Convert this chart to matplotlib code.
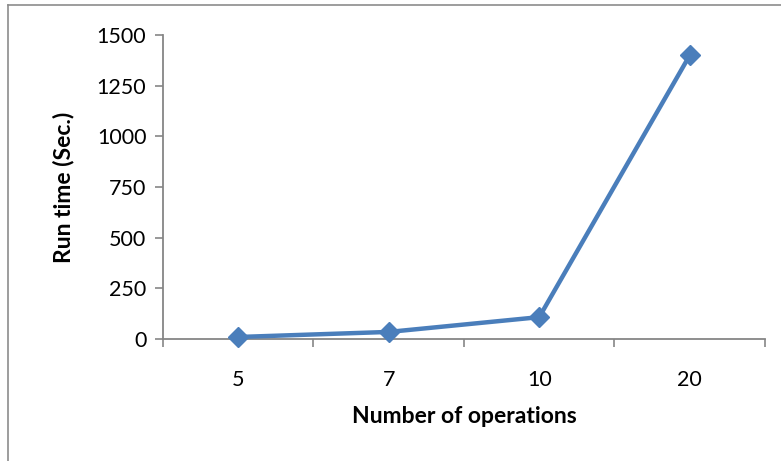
import matplotlib
matplotlib.use("Agg")
import matplotlib.pyplot as plt
from matplotlib.lines import Line2D

# Run time versus number of operations
operations = ["5", "7", "10", "20"]
run_time = [10, 35, 108, 1400]
y_ticks = [0, 250, 500, 750, 1000, 1250, 1500]

plt.rcParams["font.family"] = ["Lato", "DejaVu Sans"]

fig = plt.figure(figsize=(7.81, 4.61), dpi=100)
ax = fig.add_axes([0.2087, 0.2646, 0.7708, 0.6594])

line_color = "#4A7EBB"
axis_color = "#868686"

x = list(range(len(operations)))
ax.plot(x, run_time, color=line_color, linewidth=3.2, marker="D",
        markersize=10.5, markerfacecolor=line_color, markeredgecolor=line_color,
        clip_on=False, zorder=3)

ax.set_xlim(-0.5, len(operations) - 0.5)
ax.set_ylim(0, 1500)

# category boundaries carry the tick marks, centres carry the labels
ax.set_xticks([i - 0.5 for i in range(len(operations) + 1)])
ax.set_xticklabels([])
ax.set_xticks(x, minor=True)
ax.set_xticklabels(operations, minor=True)
ax.tick_params(axis="x", which="major", direction="out", length=6,
               width=1.2, color=axis_color)
ax.tick_params(axis="x", which="minor", length=0, pad=22, labelsize=15.5)

ax.set_yticks(y_ticks)
ax.set_yticklabels([str(v) for v in y_ticks])
ax.tick_params(axis="y", direction="out", length=6, width=1.2,
               color=axis_color, labelsize=15.5, pad=6)

for side in ("top", "right"):
    ax.spines[side].set_visible(False)
for side in ("left", "bottom"):
    ax.spines[side].set_color(axis_color)
    ax.spines[side].set_linewidth(1.3)

ax.set_xlabel("Number of operations", fontsize=16.5, fontweight="bold",
              labelpad=12)
ax.set_ylabel("Run time (Sec.)", fontsize=16.5, fontweight="bold", labelpad=16)

# chart frame
fig.add_artist(Line2D([8 / 781, 1.0], [1 - 5 / 461, 1 - 5 / 461],
                      transform=fig.transFigure, color="#8C8C8C", linewidth=1.2))
fig.add_artist(Line2D([8 / 781, 8 / 781], [0.0, 1 - 5 / 461],
                      transform=fig.transFigure, color="#8C8C8C", linewidth=1.2))

fig.savefig("out.png", dpi=100, facecolor="white")
